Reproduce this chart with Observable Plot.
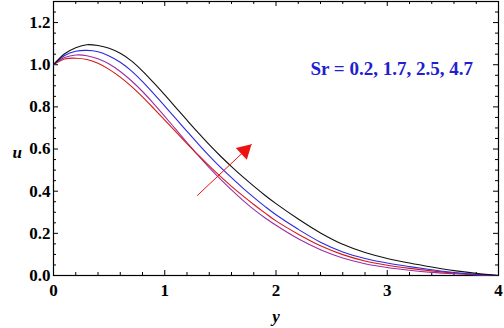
<!DOCTYPE html>
<html><head><meta charset="utf-8">
<script src="https://cdn.jsdelivr.net/npm/d3@7"></script>
<script src="https://cdn.jsdelivr.net/npm/@observablehq/plot@0.6"></script>
<style>body{margin:0;background:#fff}</style>
</head><body><div id="chart"></div>
<script>
// abscissa y
const xs = [0,0.1,0.2,0.3,0.4,0.5,0.6,0.7,0.8,0.9,1.0,1.1,1.2,1.3,1.4,1.5,1.6,1.7,1.8,1.9,2.0,2.2,2.4,2.6,2.8,3.0,3.2,3.4,3.6,3.8,4.0];
// u for Sr = 0.2 (purple)
const uSr02 = [1.000,1.034,1.046,1.043,1.028,1.003,0.968,0.924,0.873,0.816,0.755,0.693,0.631,0.570,0.512,0.457,0.406,0.358,0.314,0.274,0.238,0.174,0.122,0.083,0.056,0.038,0.025,0.015,0.008,0.003,0.000];
// u for Sr = 1.7 (red)
const uSr17 = [1.000,1.027,1.031,1.025,1.007,0.978,0.941,0.897,0.847,0.793,0.737,0.681,0.626,0.572,0.520,0.470,0.423,0.379,0.337,0.297,0.259,0.196,0.141,0.099,0.069,0.049,0.034,0.022,0.012,0.005,0.000];
// u for Sr = 2.5 (blue)
const uSr25 = [1.000,1.044,1.064,1.068,1.062,1.042,1.012,0.971,0.920,0.863,0.804,0.744,0.684,0.625,0.568,0.514,0.464,0.416,0.371,0.328,0.288,0.219,0.158,0.112,0.081,0.059,0.042,0.027,0.014,0.005,0.000];
// u for Sr = 4.7 (black)
const uSr47 = [1.000,1.052,1.081,1.095,1.091,1.078,1.054,1.018,0.970,0.915,0.857,0.797,0.737,0.678,0.621,0.567,0.517,0.469,0.424,0.381,0.341,0.268,0.202,0.148,0.109,0.081,0.059,0.040,0.023,0.010,0.000];

const seriesNames = ["Sr = 0.2","Sr = 1.7","Sr = 2.5","Sr = 4.7"];
const seriesColors = ["#9a2fa6","#d41818","#2a2ae0","#111111"];
const seriesValues = [uSr02, uSr17, uSr25, uSr47];

const xMajor = [0,1,2,3,4];
const xMinor = [0.2,0.4,0.6,0.8,1.2,1.4,1.6,1.8,2.2,2.4,2.6,2.8,3.2,3.4,3.6,3.8];
const yMajor = [0,0.2,0.4,0.6,0.8,1.0,1.2];
const yMinor = [0.05,0.1,0.15,0.25,0.3,0.35,0.45,0.5,0.55,0.65,0.7,0.75,0.85,0.9,0.95,1.05,1.1,1.15,1.25];

const labelText = ["Sr = 0.2, 1.7, 2.5, 4.7"];
const labelPos = [3.04, 0.982];
const arrowFrom = [1.294, 0.380];
const arrowTo = [1.780, 0.622];

const W = 504, H = 328, mL = 53, mR = 6, mT = 1, mB = 53;
const PW = W - mL - mR, PH = H - mT - mB;

const lineMarks = seriesValues.map((vals, i) =>
  Plot.line(xs.map((x, j) => ({x, u: vals[j], s: seriesNames[i]})),
    {x: "x", y: "u", stroke: seriesColors[i], strokeWidth: 1.1, curve: "catmull-rom"}));

const arrowData = [{x1: arrowFrom[0], y1: arrowFrom[1], x2: arrowTo[0], y2: arrowTo[1]}];

const plot = Plot.plot({
  width: W, height: H,
  marginLeft: mL, marginRight: mR, marginTop: mT, marginBottom: mB,
  style: {fontFamily: "'Liberation Serif','Times New Roman',serif", fontSize: "17px", fontWeight: "bold", background: "white", color: "black"},
  x: {domain: [0, 4]},
  y: {domain: [0, 1.3]},
  marks: [
    Plot.ruleX(xMajor, {insetTop: PH - 5, stroke: "black"}),
    Plot.ruleX(xMinor, {insetTop: PH - 3, stroke: "black"}),
    Plot.ruleX(xMajor, {insetBottom: PH - 5, stroke: "black"}),
    Plot.ruleX(xMinor, {insetBottom: PH - 3, stroke: "black"}),
    Plot.ruleY(yMajor, {insetRight: PW - 5, stroke: "black"}),
    Plot.ruleY(yMinor, {insetRight: PW - 3, stroke: "black"}),
    Plot.ruleY(yMajor, {insetLeft: PW - 5, stroke: "black"}),
    Plot.ruleY(yMinor, {insetLeft: PW - 3, stroke: "black"}),
    Plot.frame({stroke: "black", strokeWidth: 1.2}),
    Plot.axisX(xMajor, {tickSize: 0, tickPadding: 8, tickFormat: d => String(d), label: null, fontSize: 17, fontWeight: "bold"}),
    Plot.axisY(yMajor, {tickSize: 0, tickPadding: 3, tickFormat: d3.format(".1f"), label: null, fontSize: 17, fontWeight: "bold"}),
    ...lineMarks,
    Plot.arrow(arrowData, {x1: "x1", y1: "y1", x2: "x2", y2: "y2", stroke: "#ee1111", strokeWidth: 1, headLength: 0}),
    Plot.dot(arrowData, {x: "x2", y: "y2", symbol: "triangle", r: 6, fill: "#ee1111", stroke: null, rotate: 47, dx: -6.8, dy: 6.3}),
    Plot.text(labelText, {x: () => labelPos[0], y: () => labelPos[1], text: d => d, fill: "#2020d0", fontSize: 19, fontWeight: "bold", textAnchor: "middle", lineAnchor: "middle"}),
    Plot.text(["u"], {frameAnchor: "left", dx: -41, dy: 14, fontStyle: "italic", fontSize: 17, fontWeight: "bold"}),
    Plot.text(["y"], {frameAnchor: "bottom", dy: 46, lineAnchor: "bottom", fontStyle: "italic", fontSize: 17, fontWeight: "bold"})
  ]
});
document.getElementById("chart").appendChild(plot);
</script>
</body></html>
